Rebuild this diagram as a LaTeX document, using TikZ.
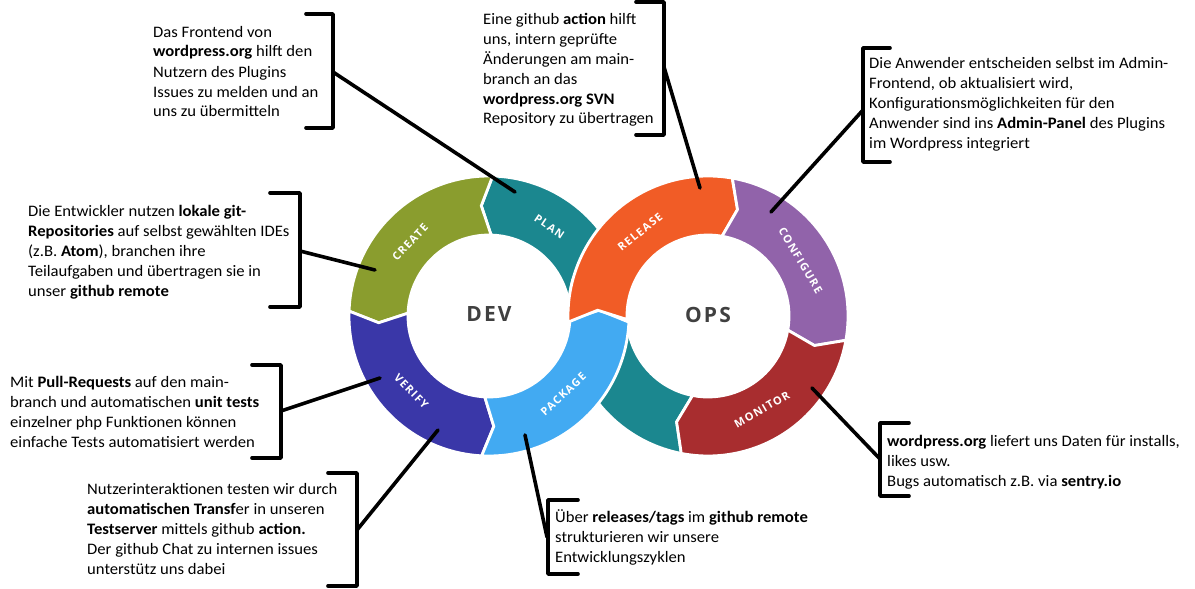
\documentclass[tikz,border=0pt]{standalone}
\usepackage{fontspec}
\usetikzlibrary{calc}
\setmainfont{Carlito}[FakeStretch=1.04]
\newfontfamily\segfont[LetterSpace=12]{Open Sans}
\newfontfamily\bigfont[LetterSpace=10]{Open Sans}
\definecolor{cTeal}{RGB}{27,135,143}
\definecolor{cOlive}{RGB}{138,157,46}
\definecolor{cIndigo}{RGB}{58,55,168}
\definecolor{cSky}{RGB}{66,170,242}
\definecolor{cOrange}{RGB}{241,92,38}
\definecolor{cPurple}{RGB}{145,99,170}
\definecolor{cRed}{RGB}{168,45,47}
\definecolor{cDark}{RGB}{64,64,64}
\newcommand\ntxt[1]{\begin{tabular}[t]{@{}l@{}}#1\end{tabular}}
\def\RadO{140pt}
\def\RadI{81pt}
\def\RadM{110.5pt}
% #1 centre, #2 start angle, #3 end angle, #4 tip offset, #5 colour
\newcommand\ringseg[5]{%
  \filldraw[segment, fill=#5] ($(#1)+(#2:\RadO)$) arc[start angle=#2, end angle=#3, radius=\RadO]
    -- ($(#1)+({#3+#4}:\RadM)$) -- ($(#1)+(#3:\RadI)$)
    arc[start angle=#3, end angle=#2, radius=\RadI]
    -- ($(#1)+({#2+#4}:\RadM)$) -- cycle;}
\begin{document}
\begin{tikzpicture}[x=1pt,y=-1pt,
  segment/.style={draw=white, line width=2.8pt, line join=miter},
  seglbl/.style={text=white, inner sep=0pt, font=\segfont\bfseries\fontsize{11}{13}\selectfont},
  biglbl/.style={text=cDark, inner sep=0pt, font=\bigfont\bfseries\fontsize{21}{24}\selectfont},
  note/.style={anchor=base west, inner sep=0pt, font=\fontsize{16}{20}\selectfont},
  brk/.style={draw=black, line width=3.6pt, line cap=round, line join=round},
  con/.style={draw=black, line width=3.6pt, line cap=round}]
\useasboundingbox (0,0) rectangle (1195,589);
\fill[white] (0,0) rectangle (1195,589);

\coordinate (L) at (489,316);
\coordinate (R) at (708,316);

% ring segments
\ringseg{L}{-15}{88.5}{5.5}{cTeal}
\ringseg{R}{-101}{-195}{-5.5}{cTeal}
\ringseg{L}{88.5}{178}{5.5}{cOlive}
\ringseg{L}{178}{267}{5.5}{cIndigo}
\ringseg{L}{267}{357.5}{5.5}{cSky}
\ringseg{R}{182.5}{80}{-5.5}{cOrange}
\ringseg{R}{80}{-10}{-5.5}{cPurple}
\ringseg{R}{-10}{-101}{-5.5}{cRed}

% segment labels
\node[seglbl, rotate=47]  (lcreate)  at ($(L)+(137:108pt)$) {CREATE};
\node[seglbl, rotate=-34] (lplan)    at ($(L)+(56:108pt)$)  {PLAN};
\node[seglbl, rotate=-46] (lverify)  at ($(L)+(224:108pt)$) {VERIFY};
\node[seglbl, rotate=43.5](lpackage) at ($(L)+(-46.5:108pt)$) {PACKAGE};
\node[seglbl, rotate=39]  (lrelease) at ($(R)+(129:108pt)$) {RELEASE};
\node[seglbl, rotate=-59] (lconfig)  at ($(R)+(31:108pt)$)  {CONFIGURE};
\node[seglbl, rotate=30]  (lmonitor) at ($(R)+(-60:108pt)$) {MONITOR};
\node[biglbl] (dev) at (489,314.5) {DEV};
\node[biglbl] (ops) at (708,314.5) {OPS};

% text blocks
\node[note] (t1) at (153,37) {\ntxt{Das Frontend von\\ \textbf{wordpress.org} hilft den\\ Nutzern des Plugins\\ Issues zu melden und an\\ uns zu übermitteln}};
\node[note] (t2) at (28,216) {\ntxt{Die Entwickler nutzen \textbf{lokale git-}\\ \textbf{Repositories} auf selbst gewählten IDEs\\ (z.B. \textbf{Atom}), branchen ihre\\ Teilaufgaben und übertragen sie in\\ unser \textbf{github remote}}};
\node[note] (t3) at (483,24) {\ntxt{Eine github \textbf{action} hilft\\ uns, intern geprüfte\\ Änderungen am main-\\ branch an das\\ \textbf{wordpress.org SVN}\\ Repository zu übertragen}};
\node[note] (t4) at (869,68) {\ntxt{Die Anwender entscheiden selbst im Admin-\\ Frontend, ob aktualisiert wird,\\ Konfigurationsmöglichkeiten für den\\ Anwender sind ins \textbf{Admin-Panel} des Plugins\\ im Wordpress integriert}};
\node[note] (t5) at (10,387) {\ntxt{Mit \textbf{Pull-Requests} auf den main-\\ branch und automatischen \textbf{unit tests}\\ einzelner php Funktionen können\\ einfache Tests automatisiert werden}};
\node[note] (t6) at (87,494) {\ntxt{Nutzerinteraktionen testen wir durch\\ \textbf{automatischen Transf}er in unseren\\ \textbf{Testserver} mittels github \textbf{action.}\\ Der github Chat zu internen issues\\ unterstütz uns dabei}};
\node[note] (t7) at (555,522) {\ntxt{Über \textbf{releases/tags} im \textbf{github remote}\\ strukturieren wir unsere\\ Entwicklungszyklen}};
\node[note] (t8) at (887,446) {\ntxt{\textbf{wordpress.org} liefert uns Daten für installs,\\ likes usw.\\ Bugs automatisch z.B. via \textbf{sentry.io}}};

% brackets
\draw[brk] (306,14) -- (333,14) -- (333,128) -- (306,128);
\draw[brk] (270,193) -- (300,193) -- (300,307) -- (270,307);
\draw[brk] (636,2) -- (664,2) -- (664,135) -- (636,135);
\draw[brk] (890,48) -- (863,48) -- (863,162) -- (890,162);
\draw[brk] (252,365) -- (281,365) -- (281,458) -- (252,458);
\draw[brk] (328,473) -- (357,473) -- (357,586) -- (328,586);
\draw[brk] (578,500) -- (548,500) -- (548,574) -- (578,574);
\draw[brk] (909,423) -- (880,423) -- (880,496) -- (909,496);

% connector end points
\coordinate (b1) at (333,72);   \coordinate (p1) at (515,192);
\coordinate (b2) at (300,251);  \coordinate (p2) at (375,270);
\coordinate (b3) at (664,67);   \coordinate (p3) at (700,188);
\coordinate (b4) at (863,110);  \coordinate (p4) at (771,212);
\coordinate (b5) at (281,411);  \coordinate (p5) at (380,378);
\coordinate (b6) at (357,530);  \coordinate (p6) at (438,430);
\coordinate (b7) at (547,537);  \coordinate (p7) at (525,435);
\coordinate (b8) at (880,459);  \coordinate (p8) at (812,388);

\draw[con] (b1) -- (p1);
\draw[con] (b2) -- (p2);
\draw[con] (b3) -- (p3);
\draw[con] (b4) -- (p4);
\draw[con] (b5) -- (p5);
\draw[con] (b6) -- (p6);
\draw[con] (b7) -- (p7);
\draw[con] (b8) -- (p8);
\end{tikzpicture}
\end{document}
